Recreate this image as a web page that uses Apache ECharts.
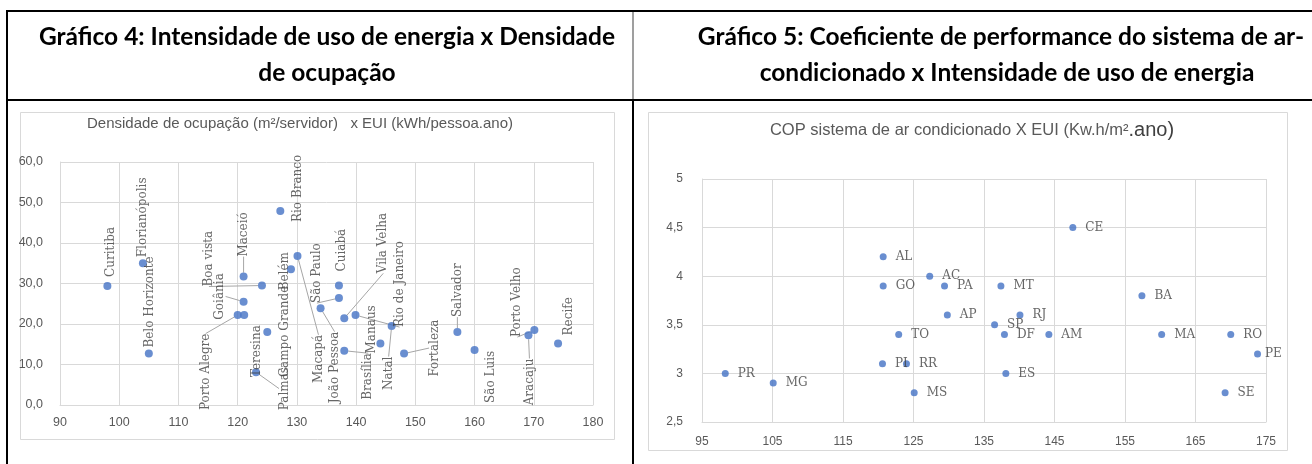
<!DOCTYPE html>
<html>
<head>
<meta charset="utf-8">
<script src="https://cdn.jsdelivr.net/npm/echarts@6/dist/echarts.min.js"></script>
<style>
  html, body { margin: 0; padding: 0; background: #fff; }
  #chart { width: 1312px; height: 464px; }
</style>
</head>
<body>
<div id="chart"></div>
<script>
// Gráfico 4: EUI (kWh/pessoa.ano) x densidade de ocupação (m²/servidor)
const cities = ['Curitiba', 'Florianópolis', 'Belo Horizonte', 'Maceió', 'Boa vista', 'Goiânia',
  'Porto Alegre', 'Campo Grande', 'Teresina', 'Palmas', 'Belém', 'Rio Branco', 'Macapá',
  'São Paulo', 'Cuiabá', 'João Pessoa', 'Vila Velha', 'Rio de Janeiro', 'Brasília', 'Manaus',
  'Natal', 'Fortaleza', 'Salvador', 'São Luis', 'Porto Velho', 'Aracaju', 'Recife'];
const euiPessoa = [98, 104, 105, 121, 124.1, 121, 120, 121.1, 125, 123.1, 129, 127.2, 130.1,
  137.1, 137.1, 134, 138, 139.9, 138, 144.1, 146, 148.1, 157.1, 160, 170.1, 169.1, 174.1];
const densidade = [29.4, 35, 12.7, 31.7, 29.5, 25.5, 22.2, 22.2, 18, 8.1, 33.5, 47.9, 36.8,
  26.4, 29.5, 23.9, 21.4, 22.2, 13.4, 15.2, 19.5, 12.7, 18, 13.6, 18.5, 17.2, 15.2];

// Gráfico 5: EUI (kWh/m².ano) x COP do ar condicionado
const states = ['AL', 'AC', 'GO', 'PA', 'AP', 'TO', 'PI', 'RR', 'PR', 'MG', 'MS', 'CE', 'MT',
  'BA', 'RJ', 'SP', 'DF', 'AM', 'ES', 'MA', 'RO', 'PE', 'SE'];
const euiArea = [120.7, 127.3, 120.7, 129.4, 129.8, 122.9, 120.6, 124.0, 98.3, 105.1, 125.1,
  147.6, 137.4, 157.4, 140.1, 136.5, 137.9, 144.2, 138.1, 160.2, 170.0, 173.8, 169.2];
const cop = [4.2, 4.0, 3.9, 3.9, 3.6, 3.4, 3.1, 3.1, 3.0, 2.9, 2.8, 4.5, 3.9, 3.8, 3.6, 3.5,
  3.4, 3.4, 3.0, 3.4, 3.4, 3.2, 2.8];

// deslocamento dos rótulos verticais (px, a partir do centro do ponto) e linhas de chamada
const labelShift = [[3, -9], [0, -6], [1, -6], [0, -20], [-53, 1], [-24, 18], [-32, 95], [41, 62],
  [-10, 45], [29, 38], [-6, 21], [18, 11], [21, 127], [-22, 5], [3, -14], [14, 95], [39, -45],
  [44, 12], [24, 49], [-9, 10], [-3, 64], [31, 23], [0, -15], [16, 53], [-17, 7], [1, 70], [11, -8]];
const withLeader = ['Maceió', 'Boa vista', 'Goiânia', 'Porto Alegre', 'Palmas', 'Macapá', 'São Paulo',
  'João Pessoa', 'Vila Velha', 'Rio de Janeiro', 'Brasília', 'Natal', 'Fortaleza', 'Porto Velho',
  'Aracaju', 'Salvador'];

const blue = '#4472c4';
const grid = '#d9d9d9';
const axisText = '#595959';
const serif = 'DejaVu Serif';

const chart = echarts.init(document.getElementById('chart'), null, { renderer: 'canvas' });

const headerFont = 'bold 24.5px Lato';

const option = {
  animation: false,
  graphic: [
    // caixas dos gráficos
    { type: 'rect', z: -10, shape: { x: 20.5, y: 112.5, width: 594, height: 327 },
      style: { fill: '#fff', stroke: grid, lineWidth: 1 } },
    { type: 'rect', z: -10, shape: { x: 648.5, y: 112.5, width: 639, height: 338 },
      style: { fill: '#fff', stroke: grid, lineWidth: 1 } },
    // tabela
    { type: 'line', shape: { x1: 6, y1: 11, x2: 1312, y2: 11 }, style: { stroke: '#000', lineWidth: 2 } },
    { type: 'line', shape: { x1: 6, y1: 100, x2: 1312, y2: 100 }, style: { stroke: '#000', lineWidth: 2 } },
    { type: 'line', shape: { x1: 7, y1: 10, x2: 7, y2: 464 }, style: { stroke: '#000', lineWidth: 2 } },
    { type: 'line', shape: { x1: 633, y1: 12, x2: 633, y2: 99 }, style: { stroke: '#7f7f7f', lineWidth: 1.5 } },
    { type: 'line', shape: { x1: 633, y1: 100, x2: 633, y2: 464 }, style: { stroke: '#000', lineWidth: 2 } },
    // cabeçalhos
    { type: 'text', x: 327, y: 37, style: { text: 'Gráfico 4: Intensidade de uso de energia x Densidade',
      font: headerFont, fill: '#000', align: 'center', verticalAlign: 'middle' } },
    { type: 'text', x: 327, y: 73, style: { text: 'de ocupação',
      font: headerFont, fill: '#000', align: 'center', verticalAlign: 'middle' } },
    { type: 'text', x: 1001, y: 37, style: { text: 'Gráfico 5: Coeficiente de performance do sistema de ar-',
      font: headerFont, fill: '#000', align: 'center', verticalAlign: 'middle' } },
    { type: 'text', x: 1007, y: 73, style: { text: 'condicionado x Intensidade de uso de energia',
      font: headerFont, fill: '#000', align: 'center', verticalAlign: 'middle' } },
    // títulos dos gráficos
    { type: 'text', x: 300, y: 124, style: { text: 'Densidade de ocupação (m²/servidor)   x EUI (kWh/pessoa.ano)',
      font: '15px "Liberation Sans"', fill: axisText, align: 'center', verticalAlign: 'middle' } },
    { type: 'text', x: 972, y: 130, style: {
      text: '{a|COP sistema de ar condicionado X EUI (Kw.h/m²}{b|.ano)}',
      align: 'center', verticalAlign: 'middle',
      rich: {
        a: { font: '16.5px "Liberation Sans"', fill: axisText },
        b: { font: '20px "Liberation Sans"', fill: '#404040' }
      } } }
  ],
  grid: [
    { left: 60, top: 162, width: 533, height: 243 },
    { left: 702, top: 179, width: 564, height: 243 }
  ],
  xAxis: [
    { gridIndex: 0, type: 'value', min: 90, max: 180, interval: 10,
      axisLine: { show: true, lineStyle: { color: grid } }, axisTick: { show: false },
      splitLine: { lineStyle: { color: grid } },
      axisLabel: { color: axisText, fontSize: 12.5, fontFamily: 'Liberation Sans', margin: 11 } },
    { gridIndex: 1, type: 'value', min: 95, max: 175, interval: 10,
      axisLine: { show: true, lineStyle: { color: grid } }, axisTick: { show: false },
      splitLine: { lineStyle: { color: grid } },
      axisLabel: { color: axisText, fontSize: 12, fontFamily: 'Liberation Sans', margin: 14 } }
  ],
  yAxis: [
    { gridIndex: 0, type: 'value', min: 0, max: 60, interval: 10,
      axisLine: { show: true, lineStyle: { color: grid } }, axisTick: { show: false },
      splitLine: { lineStyle: { color: grid } },
      axisLabel: { color: axisText, fontSize: 12.5, fontFamily: 'Liberation Sans', margin: 17,
        formatter: (v) => v.toFixed(1).replace('.', ',') } },
    { gridIndex: 1, type: 'value', min: 2.5, max: 5, interval: 0.5,
      axisLine: { show: true, lineStyle: { color: grid } }, axisTick: { show: false },
      splitLine: { lineStyle: { color: grid } },
      axisLabel: { color: axisText, fontSize: 12, fontFamily: 'Liberation Sans', margin: 19,
        formatter: (v) => String(v).replace('.', ',') } }
  ],
  series: [
    {
      type: 'scatter', xAxisIndex: 0, yAxisIndex: 0, symbolSize: 8,
      itemStyle: { color: blue },
      data: cities.map((name, i) => ({
        name: name,
        value: [euiPessoa[i], densidade[i]],
        labelLine: { show: withLeader.indexOf(name) >= 0 }
      })),
      label: {
        show: true, formatter: '{b}', rotate: 90, align: 'left', verticalAlign: 'middle',
        fontFamily: serif, fontSize: 12, color: '#404040'
      },
      labelLine: { show: true, length2: 0, lineStyle: { color: '#a6a6a6', width: 1 } },
      labelLayout: (params) => {
        const s = labelShift[params.dataIndex];
        return {
          x: params.rect.x + params.rect.width / 2 + s[0],
          y: params.rect.y + params.rect.height / 2 + s[1]
        };
      }
    },
    {
      type: 'scatter', xAxisIndex: 1, yAxisIndex: 1, symbolSize: 7,
      itemStyle: { color: blue },
      data: states.map((name, i) => ({
        name: name,
        value: [euiArea[i], cop[i]],
        label: name === 'PE' ? { distance: 4 } : undefined
      })),
      label: {
        show: true, formatter: '{b}', position: 'right', distance: 9,
        fontFamily: serif, fontSize: 12, color: '#404040'
      }
    }
  ]
};

chart.setOption(option);
</script>
</body>
</html>
